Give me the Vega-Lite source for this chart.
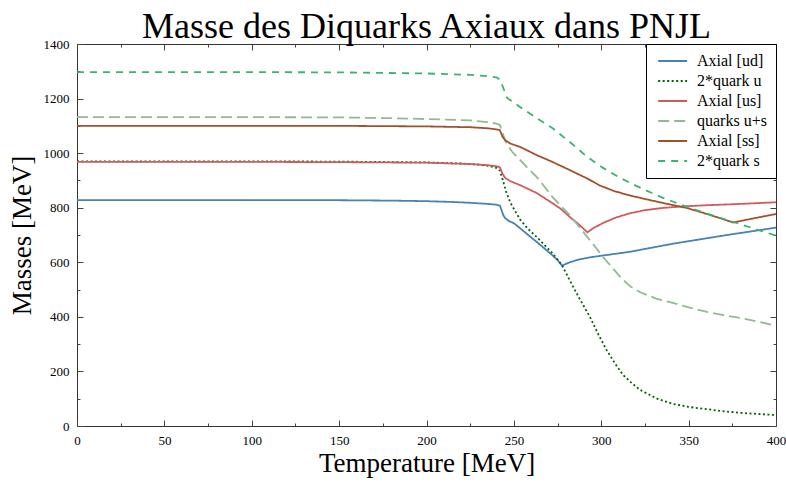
{
  "$schema": "https://vega.github.io/schema/vega-lite/v6.json",
  "width": 699,
  "height": 382,
  "autosize": {"type": "none"},
  "padding": {"left": 77, "top": 44, "right": 10, "bottom": 57},
  "background": "white",
  "title": {"text": "Masse des Diquarks Axiaux dans PNJL", "fontSize": 36, "font": "Liberation Serif", "fontWeight": "normal", "color": "#000", "anchor": "middle", "offset": -8},
  "config": {"view": {"stroke": "#333", "strokeWidth": 1}},
  "datasets": {
    "d": [
      {"s": "Axial [ud]", "T": 0, "M": 828}, {"s": "Axial [ud]", "T": 50, "M": 828}, {"s": "Axial [ud]", "T": 100, "M": 828}, {"s": "Axial [ud]", "T": 150, "M": 827.5}, {"s": "Axial [ud]", "T": 180, "M": 826}, {"s": "Axial [ud]", "T": 200, "M": 824}, {"s": "Axial [ud]", "T": 215, "M": 821}, {"s": "Axial [ud]", "T": 225, "M": 818}, {"s": "Axial [ud]", "T": 235, "M": 814}, {"s": "Axial [ud]", "T": 240, "M": 811}, {"s": "Axial [ud]", "T": 242, "M": 808}, {"s": "Axial [ud]", "T": 243, "M": 790}, {"s": "Axial [ud]", "T": 244, "M": 772}, {"s": "Axial [ud]", "T": 245, "M": 762}, {"s": "Axial [ud]", "T": 247, "M": 752}, {"s": "Axial [ud]", "T": 250, "M": 743}, {"s": "Axial [ud]", "T": 253.5, "M": 725}, {"s": "Axial [ud]", "T": 258, "M": 701}, {"s": "Axial [ud]", "T": 263, "M": 675}, {"s": "Axial [ud]", "T": 268, "M": 648}, {"s": "Axial [ud]", "T": 272, "M": 626}, {"s": "Axial [ud]", "T": 275, "M": 608}, {"s": "Axial [ud]", "T": 277.5, "M": 588}, {"s": "Axial [ud]", "T": 282, "M": 600}, {"s": "Axial [ud]", "T": 287, "M": 610}, {"s": "Axial [ud]", "T": 293.5, "M": 618}, {"s": "Axial [ud]", "T": 300, "M": 624}, {"s": "Axial [ud]", "T": 316, "M": 638}, {"s": "Axial [ud]", "T": 341, "M": 668}, {"s": "Axial [ud]", "T": 370, "M": 698}, {"s": "Axial [ud]", "T": 400, "M": 727},
      {"s": "2*quark u", "T": 0, "M": 970}, {"s": "2*quark u", "T": 100, "M": 970}, {"s": "2*quark u", "T": 150, "M": 969}, {"s": "2*quark u", "T": 200, "M": 966}, {"s": "2*quark u", "T": 220, "M": 962}, {"s": "2*quark u", "T": 230, "M": 958}, {"s": "2*quark u", "T": 236, "M": 953}, {"s": "2*quark u", "T": 240, "M": 946}, {"s": "2*quark u", "T": 242, "M": 936}, {"s": "2*quark u", "T": 243.5, "M": 905}, {"s": "2*quark u", "T": 245.5, "M": 860}, {"s": "2*quark u", "T": 248, "M": 818}, {"s": "2*quark u", "T": 253.5, "M": 757}, {"s": "2*quark u", "T": 258, "M": 723}, {"s": "2*quark u", "T": 263, "M": 693}, {"s": "2*quark u", "T": 268, "M": 660}, {"s": "2*quark u", "T": 272, "M": 634}, {"s": "2*quark u", "T": 277.5, "M": 590}, {"s": "2*quark u", "T": 284, "M": 509}, {"s": "2*quark u", "T": 288, "M": 462}, {"s": "2*quark u", "T": 293.5, "M": 400}, {"s": "2*quark u", "T": 298, "M": 340}, {"s": "2*quark u", "T": 303, "M": 279}, {"s": "2*quark u", "T": 308, "M": 228}, {"s": "2*quark u", "T": 312.5, "M": 187}, {"s": "2*quark u", "T": 317, "M": 160}, {"s": "2*quark u", "T": 322, "M": 133}, {"s": "2*quark u", "T": 332, "M": 100}, {"s": "2*quark u", "T": 341, "M": 81}, {"s": "2*quark u", "T": 350, "M": 70}, {"s": "2*quark u", "T": 360, "M": 62}, {"s": "2*quark u", "T": 370, "M": 54}, {"s": "2*quark u", "T": 380, "M": 48}, {"s": "2*quark u", "T": 390, "M": 44}, {"s": "2*quark u", "T": 400, "M": 40},
      {"s": "Axial [us]", "T": 0, "M": 968}, {"s": "Axial [us]", "T": 100, "M": 968}, {"s": "Axial [us]", "T": 150, "M": 967}, {"s": "Axial [us]", "T": 200, "M": 965}, {"s": "Axial [us]", "T": 225, "M": 960}, {"s": "Axial [us]", "T": 235, "M": 956}, {"s": "Axial [us]", "T": 240, "M": 952}, {"s": "Axial [us]", "T": 242, "M": 948}, {"s": "Axial [us]", "T": 243.5, "M": 925}, {"s": "Axial [us]", "T": 245, "M": 909}, {"s": "Axial [us]", "T": 248, "M": 897}, {"s": "Axial [us]", "T": 253.5, "M": 883}, {"s": "Axial [us]", "T": 263, "M": 854}, {"s": "Axial [us]", "T": 272, "M": 817}, {"s": "Axial [us]", "T": 277, "M": 795}, {"s": "Axial [us]", "T": 282, "M": 766}, {"s": "Axial [us]", "T": 287, "M": 740}, {"s": "Axial [us]", "T": 292, "M": 710}, {"s": "Axial [us]", "T": 296, "M": 727}, {"s": "Axial [us]", "T": 301, "M": 744}, {"s": "Axial [us]", "T": 308, "M": 763}, {"s": "Axial [us]", "T": 316, "M": 779}, {"s": "Axial [us]", "T": 325, "M": 791}, {"s": "Axial [us]", "T": 335, "M": 799}, {"s": "Axial [us]", "T": 347, "M": 805}, {"s": "Axial [us]", "T": 360, "M": 809}, {"s": "Axial [us]", "T": 380, "M": 814}, {"s": "Axial [us]", "T": 400, "M": 820},
      {"s": "quarks u+s", "T": 0, "M": 1132}, {"s": "quarks u+s", "T": 100, "M": 1132}, {"s": "quarks u+s", "T": 150, "M": 1131}, {"s": "quarks u+s", "T": 180, "M": 1128}, {"s": "quarks u+s", "T": 200, "M": 1125}, {"s": "quarks u+s", "T": 225, "M": 1120}, {"s": "quarks u+s", "T": 235, "M": 1114}, {"s": "quarks u+s", "T": 240, "M": 1108}, {"s": "quarks u+s", "T": 242, "M": 1103}, {"s": "quarks u+s", "T": 243.5, "M": 1075}, {"s": "quarks u+s", "T": 245, "M": 1045}, {"s": "quarks u+s", "T": 249, "M": 1005}, {"s": "quarks u+s", "T": 253.5, "M": 975}, {"s": "quarks u+s", "T": 258, "M": 945}, {"s": "quarks u+s", "T": 263, "M": 913}, {"s": "quarks u+s", "T": 268, "M": 873}, {"s": "quarks u+s", "T": 272, "M": 840}, {"s": "quarks u+s", "T": 277, "M": 806}, {"s": "quarks u+s", "T": 282, "M": 773}, {"s": "quarks u+s", "T": 287, "M": 733}, {"s": "quarks u+s", "T": 292, "M": 693}, {"s": "quarks u+s", "T": 297, "M": 653}, {"s": "quarks u+s", "T": 301, "M": 619}, {"s": "quarks u+s", "T": 305, "M": 590}, {"s": "quarks u+s", "T": 309, "M": 560}, {"s": "quarks u+s", "T": 312.5, "M": 535}, {"s": "quarks u+s", "T": 317, "M": 510}, {"s": "quarks u+s", "T": 322, "M": 491}, {"s": "quarks u+s", "T": 331, "M": 468}, {"s": "quarks u+s", "T": 341, "M": 451}, {"s": "quarks u+s", "T": 350, "M": 435}, {"s": "quarks u+s", "T": 360.5, "M": 418}, {"s": "quarks u+s", "T": 370, "M": 406}, {"s": "quarks u+s", "T": 379.5, "M": 396}, {"s": "quarks u+s", "T": 390, "M": 382}, {"s": "quarks u+s", "T": 400, "M": 368},
      {"s": "Axial [ss]", "T": 0, "M": 1100}, {"s": "Axial [ss]", "T": 100, "M": 1100}, {"s": "Axial [ss]", "T": 150, "M": 1100}, {"s": "Axial [ss]", "T": 200, "M": 1098}, {"s": "Axial [ss]", "T": 225, "M": 1095}, {"s": "Axial [ss]", "T": 235, "M": 1091}, {"s": "Axial [ss]", "T": 240, "M": 1087}, {"s": "Axial [ss]", "T": 242, "M": 1084}, {"s": "Axial [ss]", "T": 243.5, "M": 1060}, {"s": "Axial [ss]", "T": 245, "M": 1048}, {"s": "Axial [ss]", "T": 248, "M": 1035}, {"s": "Axial [ss]", "T": 253.5, "M": 1023}, {"s": "Axial [ss]", "T": 263, "M": 993}, {"s": "Axial [ss]", "T": 272, "M": 968}, {"s": "Axial [ss]", "T": 282, "M": 938}, {"s": "Axial [ss]", "T": 292, "M": 907}, {"s": "Axial [ss]", "T": 299, "M": 882}, {"s": "Axial [ss]", "T": 307, "M": 862}, {"s": "Axial [ss]", "T": 315, "M": 847}, {"s": "Axial [ss]", "T": 325, "M": 832}, {"s": "Axial [ss]", "T": 337, "M": 815}, {"s": "Axial [ss]", "T": 349, "M": 799}, {"s": "Axial [ss]", "T": 362, "M": 774}, {"s": "Axial [ss]", "T": 375.5, "M": 746}, {"s": "Axial [ss]", "T": 388, "M": 762}, {"s": "Axial [ss]", "T": 400, "M": 777},
      {"s": "2*quark s", "T": 0, "M": 1297}, {"s": "2*quark s", "T": 100, "M": 1297}, {"s": "2*quark s", "T": 150, "M": 1296}, {"s": "2*quark s", "T": 200, "M": 1292}, {"s": "2*quark s", "T": 225, "M": 1287}, {"s": "2*quark s", "T": 235, "M": 1282}, {"s": "2*quark s", "T": 240, "M": 1278}, {"s": "2*quark s", "T": 242, "M": 1270}, {"s": "2*quark s", "T": 244, "M": 1238}, {"s": "2*quark s", "T": 246, "M": 1203}, {"s": "2*quark s", "T": 250, "M": 1186}, {"s": "2*quark s", "T": 253.5, "M": 1169}, {"s": "2*quark s", "T": 263, "M": 1129}, {"s": "2*quark s", "T": 272, "M": 1092}, {"s": "2*quark s", "T": 282, "M": 1041}, {"s": "2*quark s", "T": 292, "M": 986}, {"s": "2*quark s", "T": 301, "M": 946}, {"s": "2*quark s", "T": 310, "M": 912}, {"s": "2*quark s", "T": 316.5, "M": 891}, {"s": "2*quark s", "T": 325, "M": 865}, {"s": "2*quark s", "T": 335, "M": 837}, {"s": "2*quark s", "T": 349, "M": 803}, {"s": "2*quark s", "T": 360, "M": 779}, {"s": "2*quark s", "T": 375.5, "M": 748}, {"s": "2*quark s", "T": 390, "M": 718}, {"s": "2*quark s", "T": 400, "M": 698}
    ]
  },
  "data": {"name": "d"},
  "layer": [
    {
      "mark": {"type": "line", "strokeWidth": 1.8, "clip": true},
      "encoding": {
        "x": {"field": "T", "type": "quantitative", "scale": {"domain": [0, 400], "nice": false, "zero": false},
          "axis": {"orient": "bottom", "values": [0,25,50,75,100,125,150,175,200,225,250,275,300,325,350,375,400],
            "labelExpr": "datum.value % 50 === 0 ? datum.label : ''",
            "tickSize": {"condition": {"test": "datum.value % 50 === 0", "value": -6}, "value": -3},
            "tickColor": "#444", "domain": false, "grid": false, "labelFlush": false, "labelOverlap": false, "labelBound": false,
            "labelFont": "Liberation Serif", "labelFontSize": 13, "labelColor": "#000", "labelPadding": 14,
            "title": "Temperature [MeV]", "titleFont": "Liberation Serif", "titleFontSize": 27, "titleFontWeight": "normal", "titleColor": "#000", "titlePadding": 0}},
        "y": {"field": "M", "type": "quantitative", "scale": {"domain": [0, 1400], "nice": false},
          "axis": {"orient": "left", "values": [0,100,200,300,400,500,600,700,800,900,1000,1100,1200,1300,1400],
            "labelExpr": "datum.value % 200 === 0 ? datum.label : ''", "format": "d",
            "tickSize": {"condition": {"test": "datum.value % 200 === 0", "value": -6}, "value": -3},
            "tickColor": "#444", "domain": false, "grid": false, "labelFlush": false, "labelOverlap": false, "labelBound": false,
            "labelFont": "Liberation Serif", "labelFontSize": 13, "labelColor": "#000", "labelPadding": 14,
            "title": "Masses [MeV]", "titleFont": "Liberation Serif", "titleFontSize": 27, "titleFontWeight": "normal", "titleColor": "#000", "titlePadding": 7}},
        "color": {"field": "s", "type": "nominal",
          "scale": {"domain": ["Axial [ud]", "2*quark u", "Axial [us]", "quarks u+s", "Axial [ss]", "2*quark s"],
            "range": ["#4682b4", "#006400", "#cd5c5c", "#8fbc8f", "#a0522d", "#3cb371"]},
          "legend": {"orient": "top-right", "offset": 0, "title": null, "strokeColor": "#000", "fillColor": "#fff", "padding": 9,
            "labelFont": "Liberation Serif", "labelFontSize": 16, "labelColor": "#000", "labelOffset": 26, "rowPadding": 4,
            "symbolType": "M-1,0H5", "symbolSize": 93, "symbolStrokeWidth": 1.8}},
        "strokeDash": {"field": "s", "type": "nominal",
          "scale": {"domain": ["Axial [ud]", "2*quark u", "Axial [us]", "quarks u+s", "Axial [ss]", "2*quark s"],
            "range": [[1, 0], [2, 2.5], [1, 0], [11, 5], [1, 0], [7, 6]]},
          "legend": {"orient": "top-right", "offset": 0, "title": null, "strokeColor": "#000", "fillColor": "#fff", "padding": 9,
            "labelFont": "Liberation Serif", "labelFontSize": 16, "labelColor": "#000", "labelOffset": 26, "rowPadding": 4,
            "symbolType": "M-1,0H5", "symbolSize": 93, "symbolStrokeWidth": 1.8}}
      }
    },
    {
      "mark": {"type": "point", "opacity": 0},
      "encoding": {
        "x": {"field": "T", "type": "quantitative",
          "axis": {"orient": "top", "values": [0,25,50,75,100,125,150,175,200,225,250,275,300,325,350,375,400],
            "labels": false, "title": null, "domain": false, "grid": false, "tickColor": "#444",
            "tickSize": {"condition": {"test": "datum.value % 50 === 0", "value": -6}, "value": -3}}},
        "y": {"field": "M", "type": "quantitative",
          "axis": {"orient": "right", "values": [0,100,200,300,400,500,600,700,800,900,1000,1100,1200,1300,1400],
            "labels": false, "title": null, "domain": false, "grid": false, "tickColor": "#444",
            "tickSize": {"condition": {"test": "datum.value % 200 === 0", "value": -6}, "value": -3}}}
      }
    }
  ],
  "resolve": {"axis": {"x": "independent", "y": "independent"}}
}
